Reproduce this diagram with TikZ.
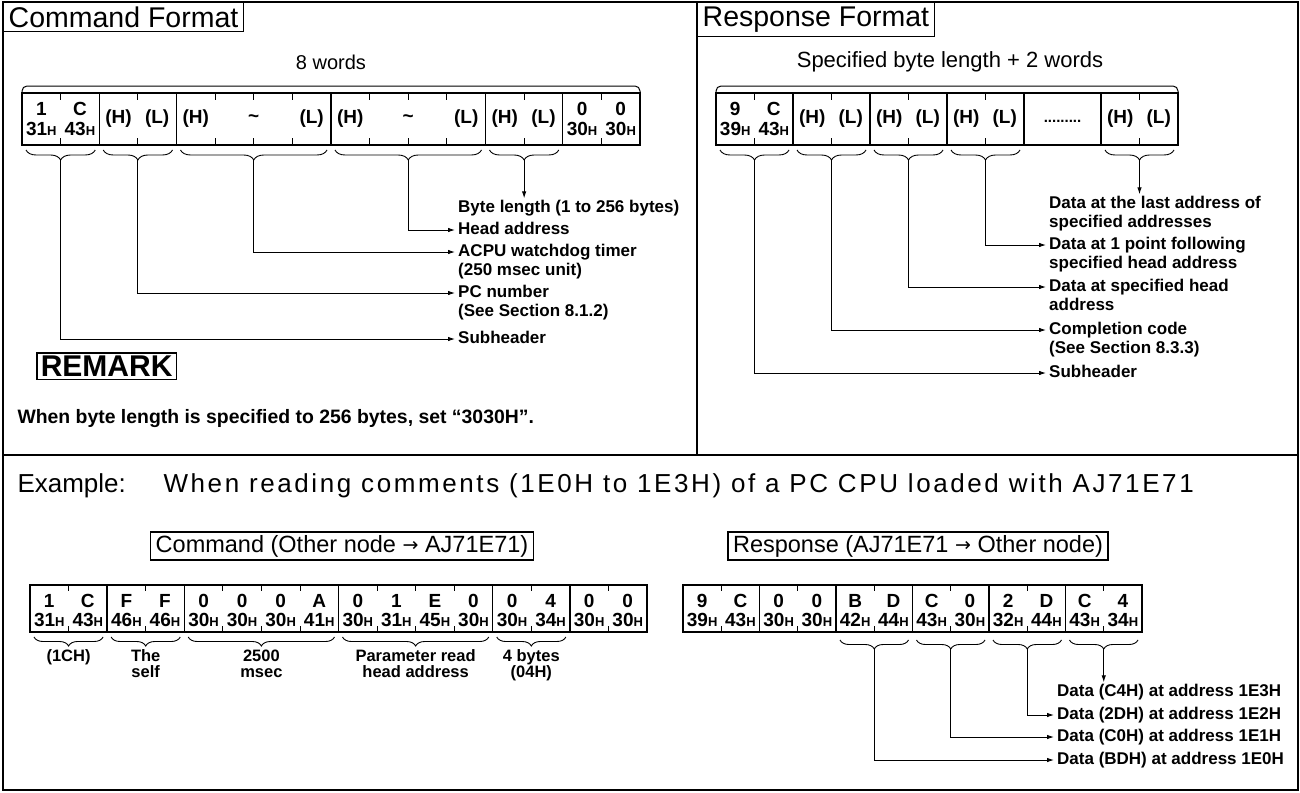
\documentclass[tikz,border=0pt]{standalone}
\usepackage{fontspec}
\setmainfont{Liberation Sans}
\newfontfamily\arrowfont{DejaVu Sans}
\usetikzlibrary{positioning,decorations.pathreplacing,arrows.meta}

\newcommand{\pxsize}[2]{\fontsize{#1}{#2}\selectfont}
\newcommand{\hx}[1]{#1{\pxsize{13}{13}H}}
\newcommand{\rarr}{\raisebox{1pt}{\arrowfont\pxsize{19}{19}→}}

\tikzset{
  hdr/.style={draw, line width=1.4pt, anchor=north west, inner xsep=5pt, inner ysep=4pt, font=\pxsize{28.5}{31}},
  exbox/.style={draw, line width=1.4pt, inner xsep=5pt, inner ysep=3pt, font=\pxsize{23.5}{26}},
  cellbox/.style={line width=1.3pt},
  bytetick/.style={line width=0.8pt},
  cellt/.style={inner sep=0pt, font=\bfseries\pxsize{19}{21}},
  ubrace/.style={decorate, decoration={brace, mirror, amplitude=10pt}, line width=0.9pt},
  topbar/.style={line width=1pt, rounded corners=5pt},
  arr/.style={-{Latex[length=7pt,width=4.5pt]}, line width=0.9pt},
  lbl/.style={anchor=west, inner xsep=3pt, inner ysep=1.5pt, text height=12.5pt, text depth=3.5pt, font=\bfseries\pxsize{17}{19}},
  note/.style={inner xsep=1pt, inner ysep=0.5pt, text height=11.5pt, text depth=3.5pt, font=\bfseries\pxsize{16.5}{17}},
}

\begin{document}
\begin{tikzpicture}[x=1pt,y=-1pt]
\useasboundingbox (0,0) rectangle (1300,792);
\fill[white] (0,0) rectangle (1300,792);

% frame and dividers
\draw[line width=2pt] (3,2) rectangle (1298,790);
\draw[line width=1.5pt] (697,2) -- (697,455);
\draw[line width=1.5pt] (3,455) -- (1298,455);

%%% Command format
\node[hdr] (cmdfmt) at (3,2) {Command Format};
\node[font=\pxsize{20}{22}] (cwords) at (331,62) {8 words};
\draw[topbar] (22,93) -- (22,86) -- (640,86) -- (640,93);
\draw[cellbox] (22,93) rectangle (640,145);
\foreach \b in {2,4,8,12,14}
  \draw[cellbox] ({22+\b*38.625},93) -- ++(0,52);
\foreach \b in {1,3,5,6,7,9,10,11,13,15} {
  \draw[bytetick] ({22+\b*38.625},93) -- ++(0,7);
  \draw[bytetick] ({22+\b*38.625},145) -- ++(0,-7);
}
\foreach \t/\b [count=\i] in {1/0.5,C/1.5,0/14.5,0/15.5}
  \node[cellt] (cu\i) at ({22+\b*38.625},109) {\t};
\foreach \t/\b [count=\i] in {31/0.5,43/1.5,30/14.5,30/15.5}
  \node[cellt] (cv\i) at ({22+\b*38.625},129) {\hx{\t}};
\foreach \t/\b [count=\i] in {{(H)}/2.5,{(L)}/3.5,{(H)}/4.5,\textasciitilde/6,{(L)}/7.5,{(H)}/8.5,\textasciitilde/10,{(L)}/11.5,{(H)}/12.5,{(L)}/13.5}
  \node[cellt] (cw\i) at ({22+\b*38.625},119) {\t};
\foreach \a/\b/\n in {0/2/1,2/4/2,4/8/3,8/12/4,12/14/5} {
  \draw[ubrace] ({22+\a*38.625+4},150) -- ({22+\b*38.625-4},150);
  \coordinate (ct\n) at ({22+(\a+\b)/2*38.625},160);
}
\node[lbl] (cbyte) at (455,208) {Byte length (1 to 256 bytes)};
\node[lbl] (chead) at (455,230) {Head address};
\node[lbl] (cacpu) at (455,252) {ACPU watchdog timer};
\node[lbl, below=0pt of cacpu.south west, anchor=north west] (cacpu2) {(250 msec unit)};
\node[lbl] (cpcno) at (455,293) {PC number};
\node[lbl, below=0pt of cpcno.south west, anchor=north west] (cpcno2) {(See Section 8.1.2)};
\node[lbl] (csub) at (455,339) {Subheader};
\draw[arr] (ct5) -- (ct5 |- cbyte.north);
\draw[arr] (ct4) |- (chead.west);
\draw[arr] (ct3) |- (cacpu.west);
\draw[arr] (ct2) |- (cpcno.west);
\draw[arr] (ct1) |- (csub.west);

% remark
\node[draw, line width=1.6pt, anchor=north west, inner xsep=4pt, inner ysep=3pt, font=\bfseries\pxsize{30}{32}] (remark) at (36,352) {REMARK};
\node[anchor=west, font=\bfseries\pxsize{19.4}{21}] (remtxt) at (14,419) {When byte length is specified to 256 bytes, set “3030H”.};

%%% Response format
\node[hdr] (resfmt) at (697,2) {Response Format};
\node[font=\pxsize{22}{24}] (rwords) at (950,62) {Specified byte length + 2 words};
\draw[topbar] (716,93) -- (716,86) -- (1178,86) -- (1178,93);
\draw[cellbox] (716,93) rectangle (1178,145);
\foreach \b in {2,4,6,8,10}
  \draw[cellbox] ({716+\b*38.5},93) -- ++(0,52);
\foreach \b in {1,3,5,7,11} {
  \draw[bytetick] ({716+\b*38.5},93) -- ++(0,7);
  \draw[bytetick] ({716+\b*38.5},145) -- ++(0,-7);
}
\foreach \t/\b [count=\i] in {9/0.5,C/1.5}
  \node[cellt] (ru\i) at ({716+\b*38.5},109) {\t};
\foreach \t/\b [count=\i] in {39/0.5,43/1.5}
  \node[cellt] (rv\i) at ({716+\b*38.5},129) {\hx{\t}};
\foreach \t/\b [count=\i] in {{(H)}/2.5,{(L)}/3.5,{(H)}/4.5,{(L)}/5.5,{(H)}/6.5,{(L)}/7.5,{(H)}/10.5,{(L)}/11.5}
  \node[cellt] (rw\i) at ({716+\b*38.5},119) {\t};
\node[cellt, font=\bfseries\pxsize{15}{17}] (rdots) at ({716+9*38.5},121) {.........};
\foreach \a/\b/\n in {0/2/1,2/4/2,4/6/3,6/8/4,10/12/6} {
  \draw[ubrace] ({716+\a*38.5+4},150) -- ({716+\b*38.5-4},150);
  \coordinate (rt\n) at ({716+(\a+\b)/2*38.5},160);
}
\node[lbl] (rlast) at (1046,204) {Data at the last address of};
\node[lbl, below=0pt of rlast.south west, anchor=north west] (rlast2) {specified addresses};
\node[lbl] (rone) at (1046,245) {Data at 1 point following};
\node[lbl, below=0pt of rone.south west, anchor=north west] (rone2) {specified head address};
\node[lbl] (rhead) at (1046,287) {Data at specified head};
\node[lbl, below=0pt of rhead.south west, anchor=north west] (rhead2) {address};
\node[lbl] (rcomp) at (1046,330) {Completion code};
\node[lbl, below=0pt of rcomp.south west, anchor=north west] (rcomp2) {(See Section 8.3.3)};
\node[lbl] (rsub) at (1046,373) {Subheader};
\draw[arr] (rt6) -- (rt6 |- rlast.north);
\draw[arr] (rt4) |- (rone.west);
\draw[arr] (rt3) |- (rhead.west);
\draw[arr] (rt2) |- (rcomp.west);
\draw[arr] (rt1) |- (rsub.west);

%%% Example
\node[anchor=west, font=\pxsize{26}{28}] (exlbl) at (14,486) {Example:};
\node[anchor=west, font=\pxsize{26}{28}\addfontfeature{LetterSpace=10}] (extxt) at (160,486) {When reading comments (1E0H to 1E3H) of a PC CPU loaded with AJ71E71};
\node[exbox] (cmdex) at (342,546) {Command (Other node \rarr\ AJ71E71)};
\node[exbox] (resex) at (918,546) {Response (AJ71E71 \rarr\ Other node)};

% command example
\draw[cellbox] (30,585) rectangle (647,632);
\foreach \b in {2,4,8,12,14}
  \draw[cellbox] ({30+\b*38.5625},585) -- ++(0,47);
\foreach \b in {1,3,5,6,7,9,10,11,13,15} {
  \draw[bytetick] ({30+\b*38.5625},585) -- ++(0,6);
  \draw[bytetick] ({30+\b*38.5625},632) -- ++(0,-6);
}
\foreach \t [count=\i] in {1,C,F,F,0,0,0,A,0,1,E,0,0,4,0,0}
  \node[cellt] (ea\i) at ({30+(\i-0.5)*38.5625},601) {\t};
\foreach \t [count=\i] in {31,43,46,46,30,30,30,41,30,31,45,30,30,34,30,30}
  \node[cellt] (eb\i) at ({30+(\i-0.5)*38.5625},620) {\hx{\t}};
\foreach \a/\b/\n in {0/2/1,2/4/2,4/8/3,8/12/4,12/14/5} {
  \draw[ubrace, decoration={amplitude=9pt}] ({30+\a*38.5625+4},637) -- ({30+\b*38.5625-4},637);
  \coordinate (et\n) at ({30+(\a+\b)/2*38.5625},646);
}
\node[note, below=3pt of et1] (en1) {(1CH)};
\node[note, below=3pt of et2] (en2) {The};
\node[note, below=0pt of en2] (en2b) {self};
\node[note, below=3pt of et3] (en3) {2500};
\node[note, below=0pt of en3] (en3b) {msec};
\node[note, below=3pt of et4] (en4) {Parameter read};
\node[note, below=0pt of en4] (en4b) {head address};
\node[note, below=3pt of et5] (en5) {4 bytes};
\node[note, below=0pt of en5] (en5b) {(04H)};

% response example
\draw[cellbox] (683,585) rectangle (1142,632);
\foreach \b in {2,4,6,8,10}
  \draw[cellbox] ({683+\b*38.25},585) -- ++(0,47);
\foreach \b in {1,3,5,7,9,11} {
  \draw[bytetick] ({683+\b*38.25},585) -- ++(0,6);
  \draw[bytetick] ({683+\b*38.25},632) -- ++(0,-6);
}
\foreach \t [count=\i] in {9,C,0,0,B,D,C,0,2,D,C,4}
  \node[cellt] (fa\i) at ({683+(\i-0.5)*38.25},601) {\t};
\foreach \t [count=\i] in {39,43,30,30,42,44,43,30,32,44,43,34}
  \node[cellt] (fb\i) at ({683+(\i-0.5)*38.25},620) {\hx{\t}};
\foreach \a/\b/\n in {4/6/3,6/8/4,8/10/5,10/12/6} {
  \draw[ubrace, decoration={amplitude=9pt}] ({683+\a*38.25+4},640) -- ({683+\b*38.25-4},640);
  \coordinate (rb\n) at ({683+(\a+\b)/2*38.25},649);
}
\node[lbl] (d3) at (1054,692) {Data (C4H) at address 1E3H};
\node[lbl] (d2) at (1054,715) {Data (2DH) at address 1E2H};
\node[lbl] (d1) at (1054,737) {Data (C0H) at address 1E1H};
\node[lbl] (d0) at (1054,760) {Data (BDH) at address 1E0H};
\draw[arr] (rb6) -- (rb6 |- d3.north);
\draw[arr] (rb5) |- (d2.west);
\draw[arr] (rb4) |- (d1.west);
\draw[arr] (rb3) |- (d0.west);
\end{tikzpicture}
\end{document}
